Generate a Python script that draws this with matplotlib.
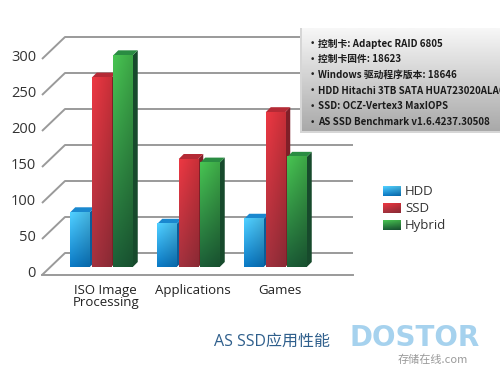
import matplotlib.pyplot as plt
import matplotlib.colors as mcolors
import numpy as np
from matplotlib.patches import Polygon, Rectangle

categories = ["ISO Image\nProcessing", "Applications", "Games"]
series = ["HDD", "SSD", "Hybrid"]
hdd = [76, 60, 67]
ssd = [263, 150, 215]
hybrid = [294, 145, 153]
yticks = [0, 50, 100, 150, 200, 250, 300]
info_lines = [
    "控制卡: Adaptec RAID 6805",
    "控制卡固件: 18623",
    "Windows 驱动程序版本: 18646",
    "HDD Hitachi 3TB SATA HUA723020ALA6",
    "SSD: OCZ-Vertex3 MaxIOPS",
    "AS SSD Benchmark v1.6.4237.30508",
]
title = "AS SSD应用性能"

# (top, bottom, side, lid) colours per series
farby = {
    "HDD": ("#4cc6f5", "#0a74bc", "#0b5c98", "#1a88cf"),
    "SSD": ("#e0353f", "#9a2f3b", "#7f1f28", "#b42a35"),
    "Hybrid": ("#44ba4e", "#1b5a35", "#174a2c", "#2a8c42"),
}

W, H = 500, 366
fig = plt.figure(figsize=(W / 100, H / 100), dpi=100)
fig.patch.set_facecolor("white")

# axes: value 0 at pixel y=267, 0.72 px per unit; category 0 at px x=101.5, 87 px per category
ppu_y = 0.72
ppu_x = 87.0
x0_px = 101.5
ymin, ymax = -30, 330
xmin, xmax = -x0_px / ppu_x, (W - x0_px) / ppu_x
bot_px = 267 + (-ymin) * ppu_y
ax = fig.add_axes([0, (H - bot_px) / H, 1, (ymax - ymin) * ppu_y / H])
ax.axis("off")


def px_x(p):
    return (p - x0_px) / ppu_x


back_dy = 14 / ppu_y
front_dy = -8 / ppu_y
x_back_l, x_front_l, x_right = px_x(65), px_x(42), px_x(353)

# walls / gridlines
for t in yticks:
    ax.plot([x_front_l, x_back_l, x_right], [t + front_dy, t + back_dy, t + back_dy],
            color="#9a9a9a", lw=1.4, zorder=1, solid_capstyle="butt")
    ax.text(px_x(36), t + front_dy + 2, str(t), ha="right", va="center",
            fontsize=10.5, color="#333333", family="Open Sans")
ax.plot([x_front_l, x_right], [front_dy, front_dy], color="#9a9a9a", lw=1.4, zorder=1)

pitch = 21.5 / ppu_x
bw = 19.5 / ppu_x
dx = 5 / ppu_x
dy = 5 / ppu_y


def gradient_img(top, bottom, n=64):
    c1 = np.array(mcolors.to_rgb(top))
    c2 = np.array(mcolors.to_rgb(bottom))
    t = np.linspace(0, 1, n)[:, None]
    col = c1 * (1 - t) + c2 * t
    img = np.repeat(col[:, None, :], 8, axis=1)
    shade = np.linspace(1.05, 0.9, 8)[None, :, None]
    return np.clip(img * shade, 0, 1)


for j, (name, vals) in enumerate(zip(series, [hdd, ssd, hybrid])):
    top, bottom, side, lid = farby[name]
    for i, v in enumerate(vals):
        z = 3 + j
        x0 = i + (j - 1) * pitch - bw / 2
        ax.add_patch(Polygon([(x0 + bw, 0), (x0 + bw + dx, dy), (x0 + bw + dx, v + dy), (x0 + bw, v)],
                             closed=True, facecolor=side, edgecolor="none", zorder=z))
        ax.add_patch(Polygon([(x0, v), (x0 + dx, v + dy), (x0 + bw + dx, v + dy), (x0 + bw, v)],
                             closed=True, facecolor=lid, edgecolor="none", zorder=z))
        ax.imshow(gradient_img(top, bottom), extent=[x0, x0 + bw, 0, v], aspect="auto",
                  interpolation="bilinear", zorder=z)

# category labels
for i, c in enumerate(categories):
    ax.text(i + 0.05, -23, c, ha="center", va="top", fontsize=9.5, color="#222222",
            family="Open Sans", linespacing=0.95, clip_on=False)

# legend
for j, name in enumerate(series):
    top, bottom, side, lid = farby[name]
    yc = (267 - (191 + 17 * j)) / ppu_y
    hh = 5 / ppu_y
    ax.imshow(gradient_img(top, bottom, 16), extent=[px_x(383), px_x(401), yc - hh, yc + hh],
              aspect="auto", interpolation="bilinear", zorder=5)
    ax.text(px_x(405), yc, name, ha="left", va="center", fontsize=9.5, color="#333333",
            family="Open Sans")

ax.set_xlim(xmin, xmax)
ax.set_ylim(ymin, ymax)

# info box
bx0, by0, bx1, by1 = 302, 28, 503, 131
sh = fig.add_axes([(bx0 - 2) / W, 1 - (by1 + 2) / H, (bx1 - bx0 + 2) / W, (by1 - by0 + 2) / H])
sh.axis("off")
sh.add_patch(Rectangle((0, 0), 1, 1, transform=sh.transAxes, facecolor="#d6d6d6", edgecolor="none"))
box = fig.add_axes([bx0 / W, 1 - by1 / H, (bx1 - bx0) / W, (by1 - by0) / H])
box.axis("off")
g = np.linspace(0, 1, 100)[:, None]
c_top = np.array(mcolors.to_rgb("#f7f7f7"))
c_bot = np.array(mcolors.to_rgb("#a9a9a9"))
box.imshow(np.repeat((c_top * (1 - g) + c_bot * g)[:, None, :], 4, axis=1),
           extent=[0, 1, 0, 1], aspect="auto", interpolation="bilinear")
box.set_xlim(0, 1)
box.set_ylim(0, 1)
for k, line in enumerate(info_lines):
    yy = 1 - (43.5 + 15.7 * k - by0) / (by1 - by0)
    box.text(8 / (bx1 - bx0), yy, "•", ha="left", va="center", fontsize=6.5, color="#222222")
    box.text(16 / (bx1 - bx0), yy, line, ha="left", va="center", fontsize=7.0,
             fontweight="bold", color="#1a1a1a",
             family=["Liberation Sans Narrow", "Noto Sans CJK SC"], clip_on=True)

# title and logo
fig.text(272 / W, 1 - 342 / H, title, ha="center", va="center", fontsize=11.5,
         color="#2f5f8c", family=["Open Sans", "Noto Sans CJK SC"])
fig.text(415 / W, 1 - 338 / H, "DOSTOR", ha="center", va="center", fontsize=20,
         fontweight="bold", color="#a6d2ee", family="DejaVu Sans")
fig.text(433 / W, 1 - 360 / H, "存储在线.com", ha="center", va="center", fontsize=8,
         color="#9a9a9a", family=["Noto Sans CJK SC", "DejaVu Sans"])

fig.savefig("out.png", dpi=100, facecolor="white")
